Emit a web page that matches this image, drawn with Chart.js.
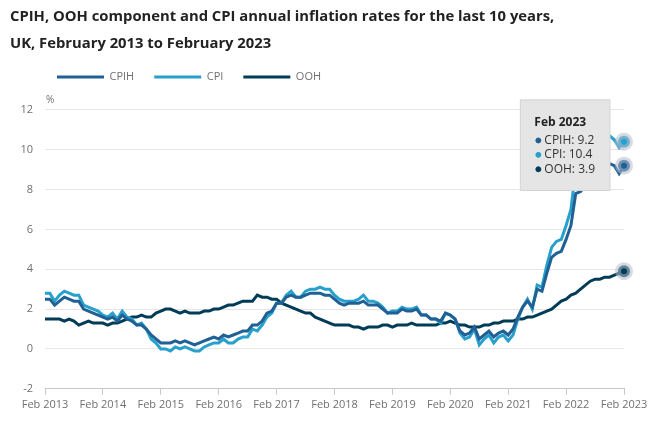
<!DOCTYPE html>
<html>
<head>
<meta charset="utf-8">
<script src="https://cdn.jsdelivr.net/npm/chart.js@4.4.0/dist/chart.umd.min.js"></script>
<style>
  html, body { margin: 0; padding: 0; background: #fff; }
  #wrap { width: 660px; height: 424px; position: relative; }
</style>
</head>
<body>
<div id="wrap"><canvas id="chartInflation"></canvas></div>
<script>
// monthly, Feb 2013 .. Feb 2023
const monthNames = ['Jan', 'Feb', 'Mar', 'Apr', 'May', 'Jun', 'Jul', 'Aug', 'Sep', 'Oct', 'Nov', 'Dec']
const startYear = 2013
const startMonth = 1 // Feb
const monthCount = 121

const cpih = [
  2.5, 2.5, 2.2, 2.4, 2.6, 2.5, 2.4, 2.4, 2.0, 1.9, 1.8,
  1.7, 1.6, 1.5, 1.6, 1.4, 1.7, 1.5, 1.4, 1.2, 1.2, 1.0, 0.7,
  0.5, 0.3, 0.3, 0.3, 0.4, 0.3, 0.4, 0.3, 0.2, 0.3, 0.4, 0.5,
  0.6, 0.5, 0.7, 0.6, 0.7, 0.8, 0.9, 0.9, 1.2, 1.2, 1.4, 1.8,
  1.9, 2.3, 2.3, 2.6, 2.7, 2.6, 2.6, 2.7, 2.8, 2.8, 2.8, 2.7,
  2.7, 2.5, 2.3, 2.2, 2.3, 2.3, 2.3, 2.4, 2.2, 2.2, 2.2, 2.0,
  1.8, 1.8, 1.8, 2.0, 1.9, 1.9, 2.0, 1.7, 1.7, 1.5, 1.5, 1.4,
  1.8, 1.7, 1.5, 0.9, 0.7, 0.8, 1.1, 0.5, 0.7, 0.9, 0.6, 0.8,
  0.9, 0.7, 1.0, 1.6, 2.1, 2.4, 2.1, 3.0, 2.9, 3.8, 4.6, 4.8,
  4.9, 5.5, 6.2, 7.8, 7.9, 8.2, 8.8, 8.6, 8.8, 9.6, 9.3, 9.2,
  8.8, 9.2
]
const cpi = [
  2.8, 2.8, 2.4, 2.7, 2.9, 2.8, 2.7, 2.7, 2.2, 2.1, 2.0,
  1.9, 1.7, 1.6, 1.8, 1.5, 1.9, 1.6, 1.5, 1.2, 1.3, 1.0, 0.5,
  0.3, 0.0, 0.0, -0.1, 0.1, 0.0, 0.1, 0.0, -0.1, -0.1, 0.1, 0.2,
  0.3, 0.3, 0.5, 0.3, 0.3, 0.5, 0.6, 0.6, 1.0, 0.9, 1.2, 1.6,
  1.8, 2.3, 2.3, 2.7, 2.9, 2.6, 2.6, 2.9, 3.0, 3.0, 3.1, 3.0,
  3.0, 2.7, 2.5, 2.4, 2.4, 2.4, 2.5, 2.7, 2.4, 2.4, 2.3, 2.1,
  1.8, 1.9, 1.9, 2.1, 2.0, 2.0, 2.1, 1.7, 1.7, 1.5, 1.5, 1.3,
  1.8, 1.7, 1.5, 0.8, 0.5, 0.6, 1.0, 0.2, 0.5, 0.7, 0.3, 0.6,
  0.7, 0.4, 0.7, 1.5, 2.1, 2.5, 2.0, 3.2, 3.1, 4.2, 5.1, 5.4,
  5.5, 6.2, 7.0, 9.0, 9.1, 9.4, 10.1, 9.9, 10.1, 11.1, 10.7, 10.5,
  10.1, 10.4
]
const ooh = [
  1.5, 1.5, 1.5, 1.5, 1.4, 1.5, 1.4, 1.2, 1.3, 1.4, 1.3,
  1.3, 1.3, 1.2, 1.3, 1.3, 1.4, 1.5, 1.6, 1.6, 1.7, 1.6, 1.6,
  1.8, 1.9, 2.0, 2.0, 1.9, 1.8, 1.9, 1.8, 1.8, 1.8, 1.9, 1.9,
  2.0, 2.0, 2.1, 2.2, 2.2, 2.3, 2.4, 2.4, 2.4, 2.7, 2.6, 2.6,
  2.5, 2.5, 2.3, 2.2, 2.1, 2.0, 1.9, 1.8, 1.8, 1.6, 1.5, 1.4,
  1.3, 1.2, 1.2, 1.2, 1.2, 1.1, 1.1, 1.0, 1.1, 1.1, 1.1, 1.2,
  1.2, 1.1, 1.2, 1.2, 1.2, 1.3, 1.2, 1.2, 1.2, 1.2, 1.2, 1.3,
  1.3, 1.4, 1.3, 1.2, 1.2, 1.1, 1.1, 1.1, 1.2, 1.2, 1.3, 1.3,
  1.4, 1.4, 1.4, 1.5, 1.5, 1.6, 1.6, 1.7, 1.8, 1.9, 2.0, 2.2,
  2.4, 2.5, 2.7, 2.8, 3.0, 3.2, 3.4, 3.5, 3.5, 3.6, 3.6, 3.7,
  3.8, 3.9
]

const labels = []
for (let i = 0; i < monthCount; i++) {
  const m = startMonth + i
  labels.push(monthNames[m % 12] + ' ' + (startYear + Math.floor(m / 12)))
}

const colCpih = '#206095'
const colCpi = '#27a0cc'
const colOoh = '#003c57'
const grey = '#707070'

Chart.defaults.font.family = "'Open Sans', sans-serif"
Chart.defaults.color = grey

const lineSet = (label, data, color) => ({
  label: label,
  data: data,
  borderColor: color,
  backgroundColor: color,
  borderWidth: 3,
  pointRadius: 0,
  pointHoverRadius: 6,
  pointHoverBorderWidth: 6,
  pointHoverBackgroundColor: color,
  pointHoverBorderColor: 'rgba(180,188,204,0.55)',
  tension: 0,
  clip: false
})

Chart.Tooltip.positioners.pinned = function () {
  const chart = this.chart
  return {
    x: chart.scales.x.getPixelForValue(monthCount - 1) - 14,
    y: chart.scales.y.getPixelForValue(12) - 10
  }
}

// legend sits a bit indented and higher than chart.js would put it, plus the % unit
const extras = {
  id: 'extras',
  afterLayout(chart) {
    chart.legend.left = 37
    chart.legend.top = 51.5
  },
  afterDraw(chart) {
    const ctx = chart.ctx
    ctx.save()
    ctx.font = "10px 'Open Sans', sans-serif"
    ctx.fillStyle = grey
    ctx.textAlign = 'left'
    ctx.textBaseline = 'middle'
    ctx.fillText('%', chart.chartArea.left + 1, chart.scales.y.getPixelForValue(12) - 10)
    ctx.restore()
  }
}

const chartEl = document.getElementById('chartInflation')
const chart = new Chart(chartEl.getContext('2d'), {
  type: 'line',
  data: {
    labels: labels,
    datasets: [
      lineSet('CPIH', cpih, colCpih),
      lineSet('CPI', cpi, colCpi),
      lineSet('OOH', ooh, colOoh)
    ]
  },
  options: {
    responsive: true,
    maintainAspectRatio: false,
    animation: false,
    events: [],
    layout: { padding: { left: 10, right: 36, top: 0, bottom: 10 } },
    interaction: { mode: 'index', intersect: false },
    plugins: {
      title: {
        display: true,
        text: [
          'CPIH, OOH component and CPI annual inflation rates for the last 10 years,',
          'UK, February 2013 to February 2023'
        ],
        align: 'start',
        color: '#222222',
        font: { size: 14.8, weight: 'bold', lineHeight: 1.82 },
        padding: { top: 3.5, bottom: 11.5 }
      },
      legend: {
        align: 'start',
        labels: {
          usePointStyle: true,
          pointStyle: 'line',
          pointStyleWidth: 47,
          padding: 20,
          color: grey,
          font: { size: 11 }
        }
      },
      tooltip: {
        position: 'pinned',
        xAlign: 'right',
        yAlign: 'top',
        caretSize: 0,
        caretPadding: 0,
        cornerRadius: 0,
        backgroundColor: '#e5e5e5',
        borderColor: '#d4d4d4',
        borderWidth: 1,
        titleColor: '#222222',
        bodyColor: '#333333',
        titleFont: { size: 12, weight: 'bold' },
        bodyFont: { size: 12 },
        titleMarginBottom: 3,
        bodySpacing: 0,
        padding: { top: 16, bottom: 14, left: 14, right: 15 },
        usePointStyle: true,
        boxWidth: 8,
        boxHeight: 5,
        callbacks: {
          labelColor: item => ({ borderColor: item.dataset.borderColor, backgroundColor: item.dataset.borderColor })
        }
      }
    },
    scales: {
      x: {
        grid: {
          drawOnChartArea: false,
          tickLength: 6,
          color: c => (c.index % 12 === 0 ? '#c8c8c8' : 'rgba(0,0,0,0)')
        },
        border: { color: '#c8c8c8' },
        ticks: {
          autoSkip: false,
          maxRotation: 0,
          padding: 3,
          color: grey,
          font: { size: 11 },
          callback: (v, i) => (i % 12 === 0 ? labels[i] : '')
        }
      },
      y: {
        min: -2,
        max: 12,
        afterFit: s => { s.width = 35 },
        grid: { color: '#e6e6e6', drawTicks: false },
        border: { display: false },
        ticks: { stepSize: 2, padding: 12, color: grey, font: { size: 11 } }
      }
    }
  },
  plugins: [extras]
})

const active = [0, 1, 2].map(d => ({ datasetIndex: d, index: monthCount - 1 }))
chart.setActiveElements(active)
chart.tooltip.setActiveElements(active, { x: 0, y: 0 })
chart.update()
</script>
</body>
</html>
